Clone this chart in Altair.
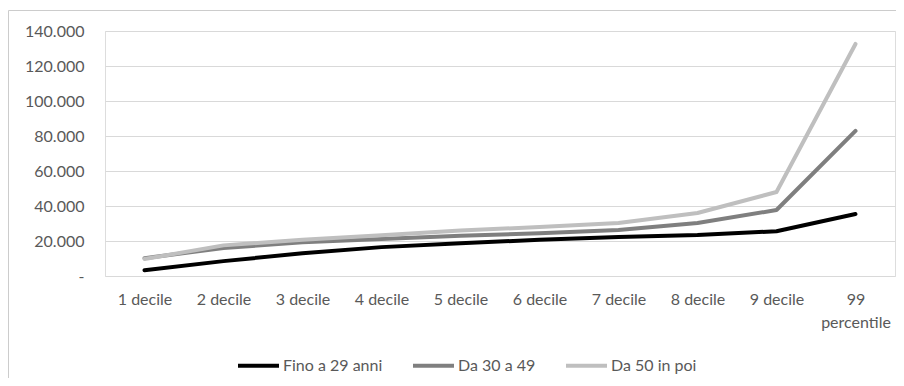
import altair as alt
import pandas as pd

categories = ["1 decile", "2 decile", "3 decile", "4 decile", "5 decile",
              "6 decile", "7 decile", "8 decile", "9 decile", "99 percentile"]
series_names = ["Fino a 29 anni", "Da 30 a 49", "Da 50 in poi"]
fino_a_29 = [3300, 8500, 13000, 16500, 18700, 20700, 22300, 23400, 25600, 35400]
da_30_a_49 = [10200, 16000, 19300, 21200, 23000, 24400, 26300, 30300, 37700, 82900]
da_50_in_poi = [9700, 17500, 20700, 23300, 26000, 28000, 30300, 36000, 48000, 132600]
y_ticks = [0, 20000, 40000, 60000, 80000, 100000, 120000, 140000]
colors = ["#000000", "#7f7f7f", "#bfbfbf"]

rows = []
for name, vals in zip(series_names, [fino_a_29, da_30_a_49, da_50_in_poi]):
    for c, v in zip(categories, vals):
        rows.append({"cat": c, "serie": name, "val": v})
df = pd.DataFrame(rows)

FONT = "Lato"
TXT = "#595959"

x_enc = alt.X("cat:N", sort=categories, title=None,
              scale=alt.Scale(paddingInner=0, paddingOuter=0.5),
              axis=alt.Axis(labelAngle=0, domain=False, ticks=False, grid=False,
                            labelPadding=15, labelFontSize=16, labelFont=FONT,
                            labelColor=TXT, labelLineHeight=23, labelBaseline="top",
                            labelExpr="datum.label == '99 percentile' ? ['99', 'percentile'] : datum.label"))
y_enc = alt.Y("val:Q", title=None,
              scale=alt.Scale(domain=[0, 140000], nice=False),
              axis=alt.Axis(values=y_ticks, domain=False, ticks=False, grid=True,
                            gridColor="#d9d9d9", gridWidth=1, labelPadding=21,
                            labelFontSize=16, labelFont=FONT, labelColor=TXT,
                            labelExpr="datum.value == 0 ? '-\u00a0\u00a0' : replace(format(datum.value, ',.0f'), ',', '.')"))
color_enc = alt.Color("serie:N", title=None,
                      scale=alt.Scale(domain=series_names, range=colors),
                      legend=alt.Legend(orient="none", legendX=131, legendY=312,
                                        direction="horizontal", symbolType="stroke",
                                        symbolSize=1681, symbolStrokeWidth=4,
                                        labelFont=FONT, labelFontSize=16, labelColor=TXT,
                                        labelOffset=2, columnPadding=22))

layers = []
for name in series_names:
    layers.append(
        alt.Chart(df).transform_filter(alt.datum.serie == name)
        .mark_line(strokeWidth=4, strokeCap="round", strokeJoin="round")
        .encode(x=x_enc, y=y_enc, color=color_enc)
    )

border_left = alt.Chart(pd.DataFrame({"a": [0]})).mark_rule(color="#cccccc", strokeWidth=1).encode(
    x=alt.value(-96.5), y=alt.value(-20.5), y2=alt.value(400))
border_top = alt.Chart(pd.DataFrame({"a": [0]})).mark_rule(color="#cccccc", strokeWidth=1).encode(
    x=alt.value(-96.5), x2=alt.value(900), y=alt.value(-20.5))

chart = alt.layer(border_left, border_top, *layers).properties(
    width=790, height=245,
    autosize=alt.AutoSizeParams(type="none"),
    padding={"left": 97, "top": 23, "right": 1, "bottom": 102},
).configure_view(stroke=None).configure(background="white")

chart.save("out.html", embed_options={"renderer": "svg", "actions": False})
